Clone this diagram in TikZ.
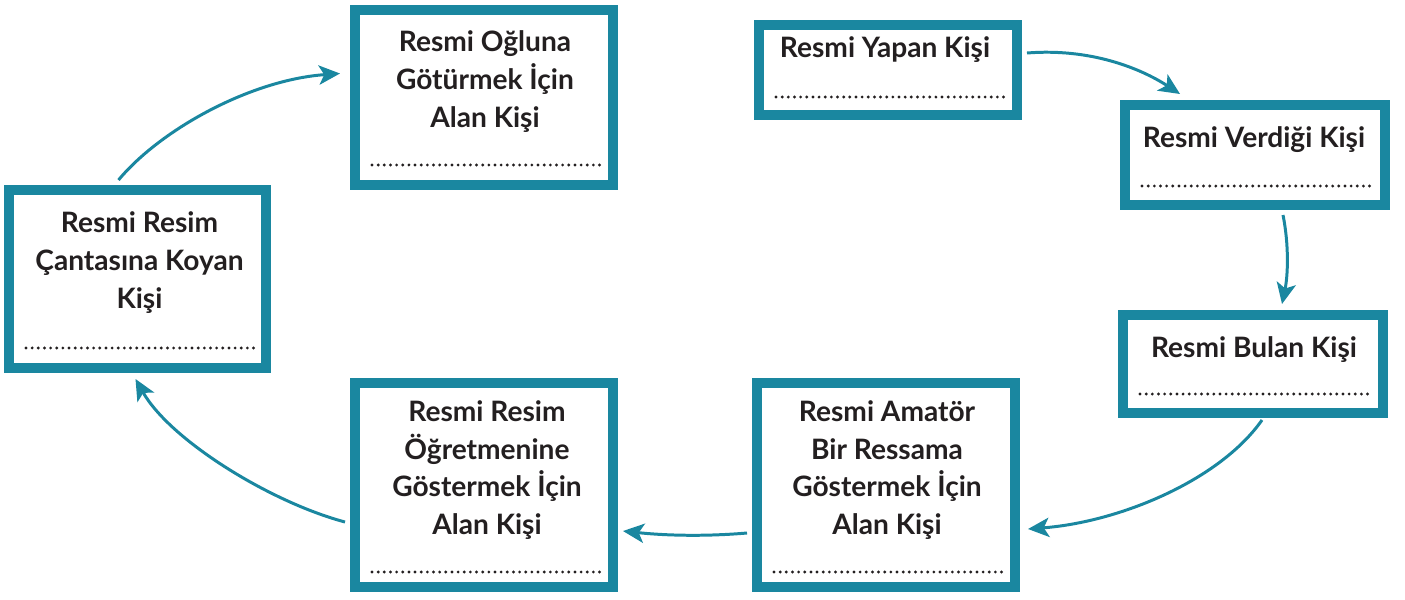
\documentclass[tikz,border=0pt]{standalone}
\usepackage{fontspec}
\setmainfont{Lato}
\usetikzlibrary{arrows.meta,calc}
\definecolor{tealblue}{RGB}{26,135,160}
\definecolor{ink}{RGB}{35,31,32}
\tikzset{
  kutu/.style={draw=tealblue, line width=5.7pt, fill=white, minimum width=5.16cm, inner sep=0pt},
  yazi/.style={font=\fontsize{16}{21.5}\selectfont\bfseries, text=ink, align=center},
  nokta/.style={ink, line width=1.8pt, line cap=round, dash pattern=on 0pt off 3.5pt},
  akis/.style={tealblue, line width=1.7pt, -{Stealth[length=12pt,width=11pt,inset=3pt]}}
}
\begin{document}
\begin{tikzpicture}[x=0.02cm, y=-0.02cm]
    \useasboundingbox (0,0) rectangle (1405,599);

    % Kutular
    \node[kutu, minimum height=3.5cm] (a) at (484,97.5) {};
    \node[kutu, minimum height=1.8cm] (b) at (888,70) {};
    \node[kutu, minimum width=5.2cm, minimum height=2cm] (c) at (1255,155) {};
    \node[kutu, minimum width=5.2cm, minimum height=1.96cm] (d) at (1253,364) {};
    \node[kutu, minimum height=4.08cm] (e) at (886,485) {};
    \node[kutu, minimum height=4.08cm] (f) at (484,485) {};
    \node[kutu, minimum width=5.14cm, minimum height=3.56cm] (g) at (137.5,279) {};

    % Yazilar
    \node[yazi] (ayazi) at (485,81.5) {Resmi Oğluna\\Götürmek İçin\\Alan Kişi};
    \node[yazi] (byazi) at (885,50) {Resmi Yapan Kişi};
    \node[yazi] (cyazi) at (1254,140) {Resmi Verdiği Kişi};
    \node[yazi] (dyazi) at (1254,350) {Resmi Bulan Kişi};
    \node[yazi] (eyazi) at (887,470) {Resmi Amatör\\Bir Ressama\\Göstermek İçin\\Alan Kişi};
    \node[yazi] (fyazi) at (487,470) {Resmi Resim\\Öğretmenine\\Göstermek İçin\\Alan Kişi};
    \node[yazi] (gyazi) at (139.5,262.5) {Resmi Resim\\Çantasına Koyan\\Kişi};

    % Noktali satirlar
    \foreach \k/\d in {a/25,b/23,c/24,d/24,e/20,f/20,g/25}
        \draw[nokta] ($(\k.south west)+(22,-\d)$) -- ($(\k.south east)+(-17,-\d)$);

    % Oklar
    \draw[akis] ($(b.east)+(5,-17)$) .. controls (1090,48) and (1140,68) .. ($(c.north west)+(60,-6)$);
    \draw[akis] ($(c.south)+(28,5)$) .. controls (1289,245) and (1288,275) .. ($(d.north)+(29,-6)$);
    \draw[akis] ($(d.south)+(9,2)$) .. controls (1220,480) and (1120,522) .. ($(e.east)+(8,44)$);
    \draw[akis] ($(e.west)+(-5,48)$) .. controls (700,537) and (660,535) .. ($(f.east)+(5,46)$);
    \draw[akis] ($(f.west)+(-5,37)$) .. controls (270,502) and (170,440) .. ($(g.south)+(-2,6)$);
    \draw[akis] ($(g.north)+(-19,-5)$) .. controls (160,130) and (250,80) .. ($(a.west)+(-10,-24)$);
\end{tikzpicture}
\end{document}
